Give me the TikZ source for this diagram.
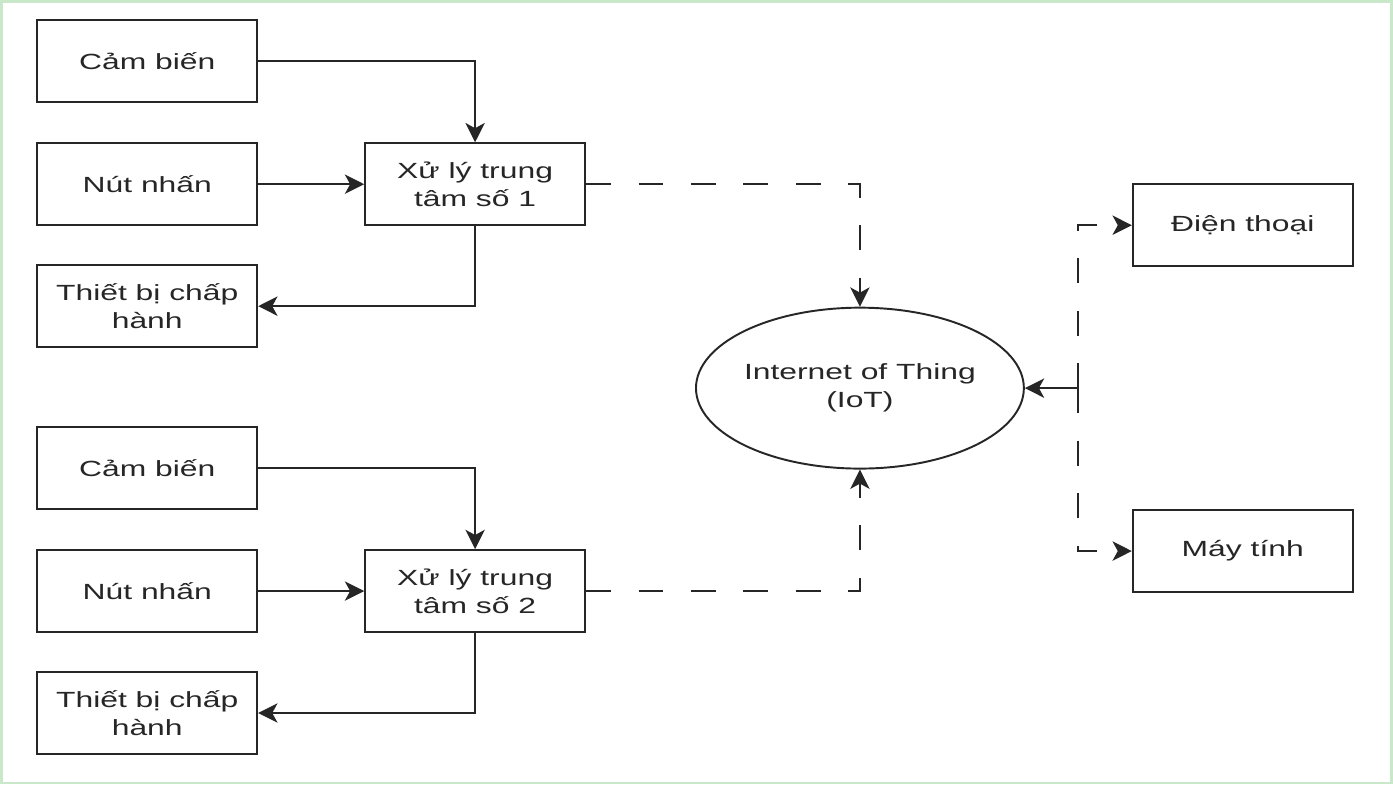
\documentclass[tikz,border=0pt]{standalone}
\usepackage{fontspec}
\setmainfont{Liberation Sans}[FakeStretch=1.45]
\usetikzlibrary{arrows.meta,shapes.geometric}

\begin{document}
\begin{tikzpicture}[line width=1.1pt, black!85,
        box/.style={draw, rectangle, minimum width=4.4cm, minimum height=1.64cm, align=center, text=black!85,
            font=\fontsize{12.5}{16}\selectfont},
        link/.style={-{Stealth[length=11pt, width=11pt, inset=3pt]}},
        dashlink/.style={link, dash pattern=on 0.5cm off 0.55cm}]

        % frame
        \draw[green!40!gray!30, line width=1.5pt, fill=white] (0.02, 0.02) rectangle (27.84, 15.66);

        % two groups of blocks
        \foreach \n/\y in {1/12.0, 2/3.86} {
            \node[box] (cb\n) at (2.94, \y + 2.46) {Cảm biến};
            \node[box] (nn\n) at (2.94, \y) {Nút nhấn};
            \node[box] (tb\n) at (2.94, \y - 2.44) {Thiết bị chấp\\hành};
            \node[box] (xl\n) at (9.5, \y) {Xử lý trung\\tâm số \n};

            \draw[link] (cb\n) -| (xl\n);
            \draw[link] (nn\n) -- (xl\n);
            \draw[link] (xl\n) |- (tb\n);
        }

        \node[draw, ellipse, minimum width=6.5cm, minimum height=3.22cm, inner sep=0pt, align=center, text=black!85,
            font=\fontsize{12.5}{16}\selectfont] (iot) at (17.2, 7.92) {Internet of Thing\\(IoT)};

        \node[box] (dt) at (24.86, 11.18) {Điện thoại};
        \node[box] (mt) at (24.86, 4.66) {Máy tính};

        \draw[dashlink] (xl1) -| (iot);
        \draw[dashlink] (xl2) -| (iot);

        \coordinate (hub) at (21.56, 7.92);
        \draw[link] (hub) -- (iot);
        \draw[dashlink] (hub) |- (dt);
        \draw[dashlink] (hub) |- (mt);
    \end{tikzpicture}
\end{document}
